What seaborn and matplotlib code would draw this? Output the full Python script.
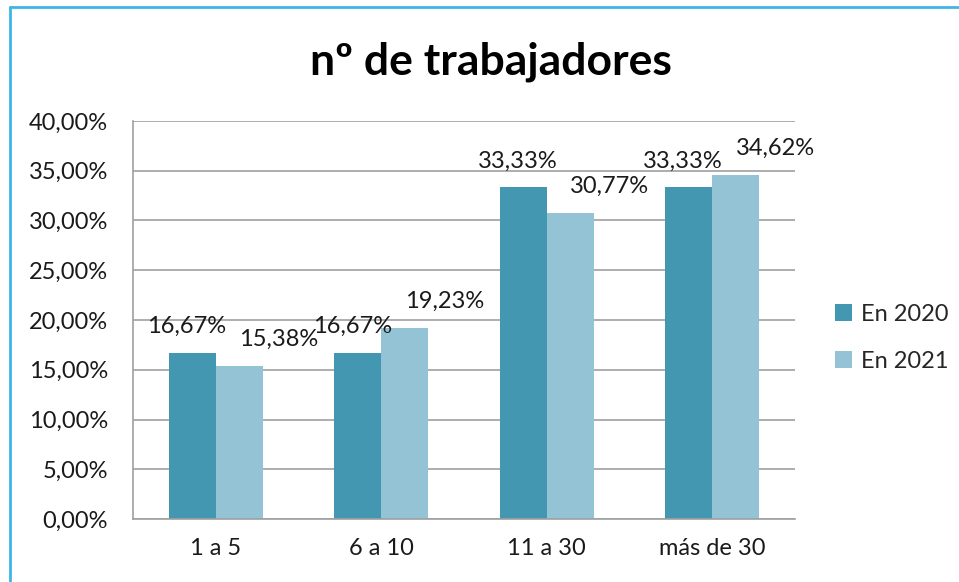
import matplotlib
matplotlib.use("Agg")
import matplotlib.pyplot as plt
import seaborn as sns
import pandas as pd
from matplotlib.lines import Line2D
from matplotlib.ticker import FuncFormatter, MultipleLocator

categories = ["1 a 5", "6 a 10", "11 a 30", "más de 30"]
series_names = ["En 2020", "En 2021"]
values_2020 = [16.67, 16.67, 33.33, 33.33]
values_2021 = [15.38, 19.23, 30.77, 34.62]
title = "nº de trabajadores"

df = pd.DataFrame({
    "cat": categories * 2,
    "serie": [series_names[0]] * 4 + [series_names[1]] * 4,
    "val": values_2020 + values_2021,
})

sns.set_theme(style="white")
plt.rcParams["font.family"] = ["Lato", "DejaVu Sans"]

FS = 17

fig = plt.figure(figsize=(9.59, 5.82), dpi=100)
ax = fig.add_axes([133/959, 1-519/582, (795-133)/959, (519-121)/582])

colors = ["#4397B0", "#93C3D5"]
sns.barplot(data=df, x="cat", y="val", hue="serie", order=categories,
            hue_order=series_names, palette=colors, width=0.57, gap=0,
            saturation=1, ax=ax, legend=True, linewidth=0)

ax.set_ylim(0, 40)
ax.yaxis.set_major_locator(MultipleLocator(5))
ax.yaxis.set_major_formatter(FuncFormatter(lambda v, p: f"{v:.2f}".replace(".", ",") + "%"))
ax.set_xlim(-0.5, 3.5)
ax.set_xlabel("")
ax.set_ylabel("")
ax.grid(axis="y", color="#A0A0A0", linewidth=1.2)
ax.set_axisbelow(True)
for s in ["top", "right"]:
    ax.spines[s].set_visible(False)
for s in ["left", "bottom"]:
    ax.spines[s].set_color("#A0A0A0")
    ax.spines[s].set_linewidth(1.2)
ax.tick_params(axis="y", length=0, pad=18, labelsize=FS, labelcolor="#1a1a1a")
ax.tick_params(axis="x", length=0, pad=14, labelsize=FS, labelcolor="#1a1a1a")

def fmt(v):
    return f"{v:.2f}".replace(".", ",") + "%"

for i, cont in enumerate(ax.containers):
    for bar in cont:
        h = bar.get_height()
        cx = bar.get_x() + bar.get_width() / 2
        if i == 0:
            ax.annotate(fmt(h), (cx, h), xytext=(-4, 19), textcoords="offset points",
                        ha="center", va="center", fontsize=FS, color="#1a1a1a")
        else:
            ax.annotate(fmt(h), (cx, h), xytext=(0, 19), textcoords="offset points",
                        ha="left", va="center", fontsize=FS, color="#1a1a1a")

leg = ax.legend(loc="center left", bbox_to_anchor=(835/959, 1-338/582),
                bbox_transform=fig.transFigure, frameon=False, fontsize=FS,
                handlelength=0.7, handleheight=0.7, handletextpad=0.4,
                labelspacing=1.1, borderpad=0, borderaxespad=0)

fig.text(491/959, 1-62/582, title, ha="center", va="center",
         fontsize=32, fontweight="bold", color="black")

fig.add_artist(Line2D([10/959, 10/959], [0, 1-7/582], transform=fig.transFigure,
                      color="#3DB5E6", linewidth=2))
fig.add_artist(Line2D([10/959, 1], [1-7/582, 1-7/582], transform=fig.transFigure,
                      color="#3DB5E6", linewidth=2))

fig.savefig("out.png", dpi=100)
